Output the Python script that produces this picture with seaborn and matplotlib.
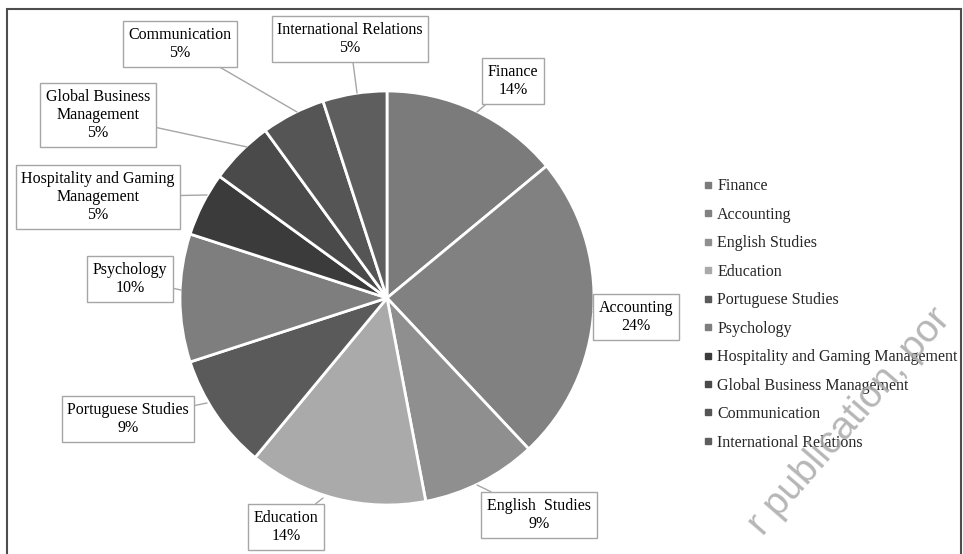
import matplotlib
matplotlib.use("Agg")
import matplotlib.pyplot as plt
import seaborn as sns
from matplotlib.lines import Line2D
from matplotlib.patches import Rectangle

categories = ["Finance", "Accounting", "English Studies", "Education", "Portuguese Studies",
              "Psychology", "Hospitality and Gaming Management", "Global Business Management",
              "Communication", "International Relations"]
shares = [14, 24, 9, 14, 9, 10, 5, 5, 5, 5]
box_labels = ["Finance\n14%", "Accounting\n24%", "English  Studies\n9%", "Education\n14%",
              "Portuguese Studies\n9%", "Psychology\n10%",
              "Hospitality and Gaming\nManagement\n5%", "Global Business\nManagement\n5%",
              "Communication\n5%", "International Relations\n5%"]
colors = ["#7b7b7b", "#818181", "#8f8f8f", "#aaaaaa", "#5a5a5a",
          "#7e7e7e", "#3b3b3b", "#4a4a4a", "#555555", "#5e5e5e"]

sns.set_theme(style="white")
plt.rcParams['font.family'] = ['Liberation Serif', 'DejaVu Serif']

W, H = 963, 554
fig = plt.figure(figsize=(W / 100, H / 100), dpi=100)
ax = fig.add_axes([0, 0, 1, 1])

cx, cy, r = 387, H - 298, 207
wedges, _ = ax.pie(shares, colors=colors, startangle=90, counterclock=False,
                   center=(cx, cy), radius=r, frame=True,
                   wedgeprops=dict(edgecolor="white", linewidth=2))
ax.set_xlim(0, W)
ax.set_ylim(0, H)
ax.set_aspect("equal")
ax.axis("off")

# label boxes: (text x, text y) in pixel coords (y from top), leader end on pie
label_pos = [(513, 81), (636, 317), (539, 515), (286, 527), (128, 419),
             (130, 279), (98, 197), (98, 115), (180, 44), (350, 39)]
leader_end = [(477, 112), (593, 312), (477, 485), (323, 498), (207, 403),
              (181, 290), (207, 195), (247, 147), (297, 112), (357, 93)]

for lab, (tx, ty), (ex, ey) in zip(box_labels, label_pos, leader_end):
    ax.annotate(lab, xy=(ex, H - ey), xytext=(tx, H - ty), ha="center", va="center",
                fontsize=11.5, color="black", linespacing=1.2,
                bbox=dict(boxstyle="square,pad=0.35", fc="white", ec="#a6a6a6", lw=1),
                arrowprops=dict(arrowstyle="-", color="#a6a6a6", lw=1,
                                shrinkA=0, shrinkB=0),
                annotation_clip=False, zorder=5)

handles = [Line2D([0], [0], marker="s", linestyle="", markersize=4,
                  markerfacecolor=c, markeredgecolor=c) for c in colors]
leg = ax.legend(handles, categories, loc="upper left",
                bbox_to_anchor=(698 / W, 1 - 172 / H), bbox_transform=fig.transFigure,
                frameon=False, fontsize=11.5, handlelength=0.5, handletextpad=0.3,
                labelspacing=0.78, borderaxespad=0)

# outer frame
ax.add_patch(Rectangle((7, -20), 954, H - 9 + 20, fill=False, ec="#4d4d4d", lw=1.5,
                       clip_on=False))

# watermark fragment
ax.text(850, H - 422, "r publication, por", rotation=49, fontsize=28,
        family="Liberation Sans", color="#a9a9a9", ha="center", va="center", alpha=0.85,
        zorder=6)

fig.savefig("out.png", dpi=100)
